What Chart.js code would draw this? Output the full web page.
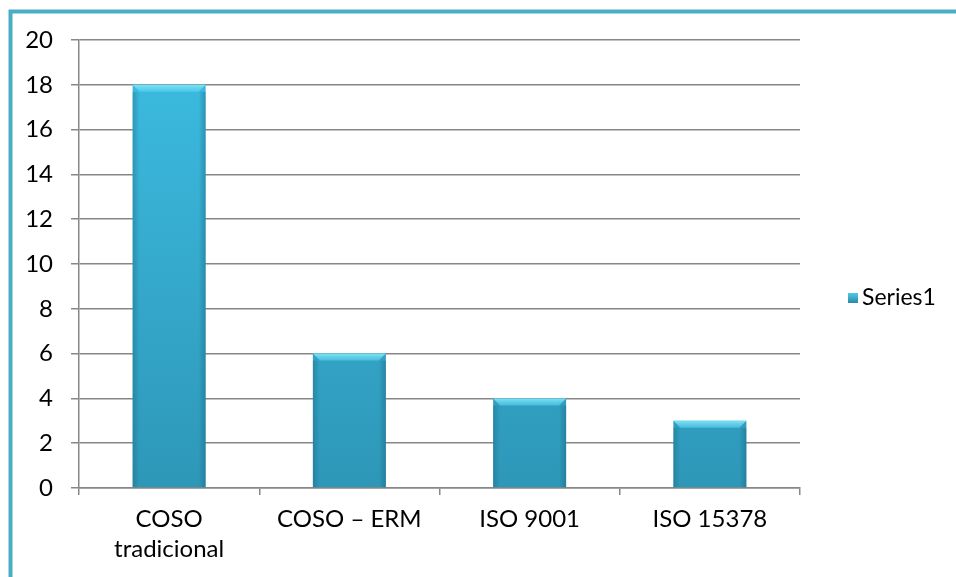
<!DOCTYPE html>
<html>
<head>
<meta charset="utf-8">
<script src="https://cdn.jsdelivr.net/npm/chart.js@4/dist/chart.umd.min.js"></script>
<style>
  html, body { margin: 0; padding: 0; background: #fff; }
  #wrap { width: 956px; height: 577px; }
</style>
</head>
<body>
<div id="wrap"><canvas id="c" width="956" height="577"></canvas></div>
<script>
const categories = [["COSO", "tradicional"], "COSO \u2013 ERM", "ISO 9001", "ISO 15378"];
const series1 = [18, 6, 4, 3];
const seriesName = "Series1";
const yTicks = [0, 2, 4, 6, 8, 10, 12, 14, 16, 18, 20];

const FONT = "Lato, 'Open Sans', sans-serif";
const GRID = "#878787";
const FRAME = "#4bacc6";

// outer frame: only top and left edges are visible in the picture
const frame = {
  id: "frame",
  afterDraw(chart) {
    const ctx = chart.ctx;
    ctx.save();
    ctx.strokeStyle = FRAME;
    ctx.lineWidth = 4;
    ctx.beginPath();
    ctx.moveTo(10.5, chart.height);
    ctx.lineTo(10.5, 11.5);
    ctx.lineTo(chart.width, 11.5);
    ctx.stroke();
    ctx.restore();
  }
};

// bevel look on the bars
const bevel = {
  id: "bevel",
  afterDatasetsDraw(chart) {
    const ctx = chart.ctx;
    chart.getDatasetMeta(0).data.forEach(bar => {
      const l = bar.x - bar.width / 2, r = bar.x + bar.width / 2;
      const t = bar.y, b = bar.base, e = 7;
      ctx.save();
      // top bevel
      let g = ctx.createLinearGradient(0, t, 0, t + e);
      g.addColorStop(0, "rgba(130,230,248,0.95)");
      g.addColorStop(1, "rgba(90,210,238,0.6)");
      ctx.fillStyle = g;
      ctx.beginPath();
      ctx.moveTo(l, t); ctx.lineTo(r, t); ctx.lineTo(r - e, t + e); ctx.lineTo(l + e, t + e);
      ctx.closePath(); ctx.fill();
      // side shading
      g = ctx.createLinearGradient(l, 0, l + e, 0);
      g.addColorStop(0, "rgba(20,90,115,0.35)");
      g.addColorStop(1, "rgba(20,90,115,0)");
      ctx.fillStyle = g;
      ctx.fillRect(l, t + e, e, b - t - e);
      g = ctx.createLinearGradient(r, 0, r - e, 0);
      g.addColorStop(0, "rgba(20,90,115,0.4)");
      g.addColorStop(1, "rgba(20,90,115,0)");
      ctx.fillStyle = g;
      ctx.fillRect(r - e, t + e, e, b - t - e);
      ctx.restore();
    });
  }
};

// legend at the right, vertically centred on the plot
const sideLegend = {
  id: "sideLegend",
  afterDraw(chart) {
    const ctx = chart.ctx;
    const a = chart.chartArea;
    const cy = (a.top + a.bottom) / 2 + 34;
    ctx.save();
    const g = ctx.createLinearGradient(0, cy - 5, 0, cy + 5);
    g.addColorStop(0, "#4fc9e8");
    g.addColorStop(1, "#2a8aa8");
    ctx.fillStyle = g;
    ctx.fillRect(848, cy - 5, 10, 10);
    ctx.fillStyle = "#000";
    ctx.font = "23px " + FONT;
    ctx.textBaseline = "middle";
    ctx.fillText(chart.data.datasets[0].label, 862, cy);
    ctx.restore();
  }
};

new Chart(document.getElementById("c"), {
  type: "bar",
  data: {
    labels: categories,
    datasets: [{
      label: seriesName,
      data: series1,
      backgroundColor: ctx => {
        const a = ctx.chart.chartArea;
        if (!a) return "#37b2d6";
        const g = ctx.chart.ctx.createLinearGradient(0, a.top, 0, a.bottom);
        g.addColorStop(0, "#3cbde2");
        g.addColorStop(1, "#2e97b8");
        return g;
      },
      borderWidth: 0,
      barPercentage: 0.405,
      categoryPercentage: 1
    }]
  },
  options: {
    animation: false,
    responsive: false,
    layout: { padding: { top: 40, right: 156, left: 0, bottom: 0 } },
    plugins: {
      legend: { display: false },
      tooltip: { enabled: false }
    },
    scales: {
      x: {
        grid: { offset: true, drawOnChartArea: false, drawTicks: true, tickLength: 7, color: GRID, lineWidth: 1.5 },
        border: { color: GRID, width: 1.5 },
        ticks: { color: "#000", padding: 9, maxRotation: 0, autoSkip: false, font: { family: FONT, size: 24, lineHeight: 1.25 } },
        afterFit(s) { s.height = 89; }
      },
      y: {
        min: 0,
        max: 20,
        afterBuildTicks(s) { s.ticks = yTicks.map(v => ({ value: v })); },
        grid: { color: GRID, lineWidth: 1.5, tickLength: 8 },
        border: { color: GRID, width: 1.5 },
        ticks: { color: "#000", padding: 18, font: { family: FONT, size: 24 } },
        afterFit(s) { s.width = 79; }
      }
    }
  },
  plugins: [frame, bevel, sideLegend]
});
</script>
</body>
</html>
